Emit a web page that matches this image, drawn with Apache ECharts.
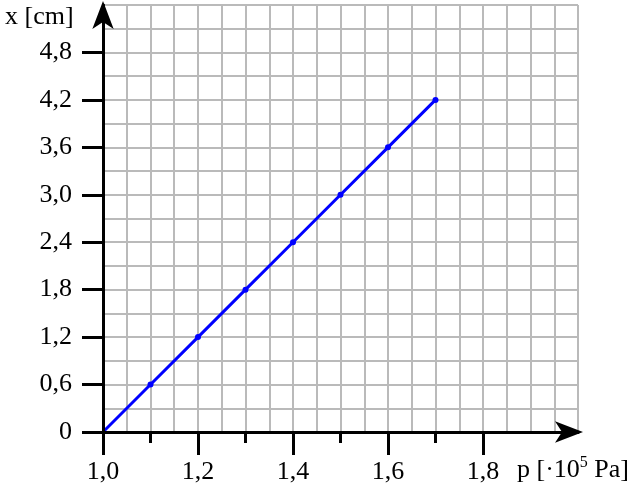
<!DOCTYPE html>
<html>
<head>
<meta charset="utf-8">
<script src="https://cdn.jsdelivr.net/npm/echarts@6.0.0/dist/echarts.min.js"></script>
<style>
  html, body { margin: 0; padding: 0; background: #fff; }
  #chart { width: 640px; height: 487px; }
</style>
</head>
<body>
<div id="chart"></div>
<script>
// measured points: pressure [·10^5 Pa] vs extension x [cm]
var pressure = [1.0, 1.1, 1.2, 1.3, 1.4, 1.5, 1.6, 1.7];
var extension = [0, 0.6, 1.2, 1.8, 2.4, 3.0, 3.6, 4.2];

// tick labels
var xLabels = [1.0, 1.2, 1.4, 1.6, 1.8];
var xMinorTicks = [1.1, 1.3, 1.5, 1.7];
var yLabels = [0, 0.6, 1.2, 1.8, 2.4, 3.0, 3.6, 4.2, 4.8];

var font = 'Liberation Serif';
var gridLine = { color: '#bababa', width: 2 };
var black = { color: '#000', width: 3 };

function fmt(v) {
  if (Math.abs(v) < 1e-9) return '0';
  return v.toFixed(1).replace('.', ',');
}

var chart = echarts.init(document.getElementById('chart'));

var points = pressure.map(function (p, i) {
  var item = { value: [p, extension[i]] };
  if (i === 0) item.symbolSize = 0;
  return item;
});

// axes only used to draw the squared paper
function paperAxis(max, step) {
  return {
    type: 'value', min: max === 2 ? 1 : 0, max: max, interval: step,
    axisLine: { show: false }, axisTick: { show: false }, axisLabel: { show: false },
    splitLine: { show: true, lineStyle: gridLine }
  };
}

chart.setOption({
  animation: false,
  grid: { left: 103, right: 62, top: 5, bottom: 55, containLabel: false },
  xAxis: [{
    type: 'value',
    min: 1, max: 2, interval: 0.1,
    axisLine: {
      show: true, onZero: false,
      symbol: ['none', 'arrow'], symbolSize: [16, 28], symbolOffset: [0, 5],
      lineStyle: black
    },
    axisTick: { show: true, length: 23, customValues: xLabels, lineStyle: black },
    axisLabel: {
      customValues: xLabels, margin: 27, formatter: fmt,
      color: '#000', fontFamily: font, fontSize: 26
    },
    splitLine: { show: false },
    z: 5
  }, {
    type: 'value',
    min: 1, max: 2, interval: 0.1,
    position: 'bottom',
    axisLine: { show: false },
    axisTick: { show: true, length: 11, customValues: xMinorTicks, lineStyle: black },
    axisLabel: { show: false },
    splitLine: { show: false }
  }, paperAxis(2, 0.05)],
  yAxis: [{
    type: 'value',
    min: 0, max: 5.4, interval: 0.6,
    axisLine: {
      show: true, onZero: false,
      symbol: ['none', 'arrow'], symbolSize: [16, 28], symbolOffset: [0, 4],
      lineStyle: black
    },
    axisTick: { show: true, length: 21, customValues: yLabels, lineStyle: black },
    axisLabel: {
      customValues: yLabels, margin: 31, formatter: fmt,
      color: '#000', fontFamily: font, fontSize: 26
    },
    splitLine: { show: false },
    z: 5
  }, paperAxis(5.4, 0.3)],
  graphic: [{
    type: 'text',
    left: 5, top: 4,
    style: { text: 'x [cm]', fill: '#000', font: '26px "Liberation Serif"' }
  }, {
    type: 'text',
    left: 517, top: 455,
    style: {
      text: '{t|p [·10}{s|5}{t| Pa]}',
      rich: {
        t: { fontFamily: font, fontSize: 26, fill: '#000', lineHeight: 30 },
        s: { fontFamily: font, fontSize: 16, fill: '#000', verticalAlign: 'top', lineHeight: 18 }
      }
    }
  }],
  series: [{
    type: 'line',
    xAxisIndex: 0,
    yAxisIndex: 0,
    data: points,
    symbol: 'circle',
    symbolSize: 6,
    lineStyle: { color: '#0000ff', width: 3 },
    itemStyle: { color: '#0000ff' },
    z: 3
  }]
});
</script>
</body>
</html>
